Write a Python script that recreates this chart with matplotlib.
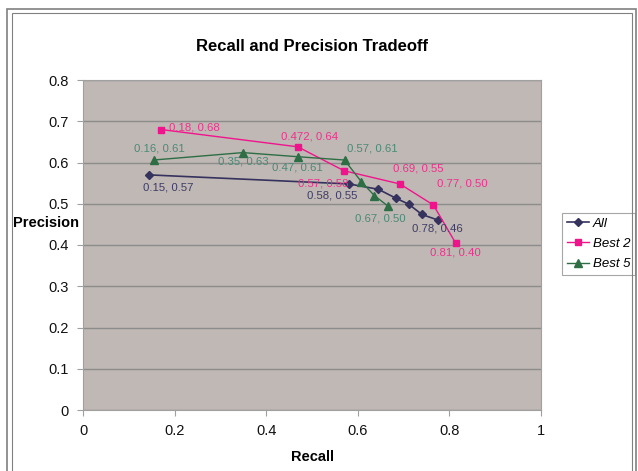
import matplotlib.pyplot as plt
from matplotlib.patches import Rectangle

plt.rcParams['font.family'] = ['Liberation Sans', 'DejaVu Sans']

# data
all_recall = [0.144, 0.581, 0.645, 0.684, 0.711, 0.740, 0.776]
all_prec = [0.570, 0.548, 0.535, 0.513, 0.499, 0.474, 0.460]
best2_recall = [0.170, 0.469, 0.570, 0.692, 0.765, 0.814]
best2_prec = [0.680, 0.638, 0.580, 0.548, 0.497, 0.404]
best5_recall = [0.154, 0.349, 0.469, 0.571, 0.608, 0.636, 0.665]
best5_prec = [0.606, 0.624, 0.614, 0.606, 0.553, 0.520, 0.495]

# labelled points: (point index, text, offset px)
all_labels = [(0, '0.15, 0.57', (19, -13)), (1, '0.58, 0.55', (-17, -12)),
              (6, '0.78, 0.46', (-1, -8))]
best2_labels = [(0, '0.18, 0.68', (34, 2)), (1, '0.472, 0.64', (12, 10)),
                (2, '0.57, 0.58', (-21, -13)), (3, '0.69, 0.55', (18, 15)),
                (4, '0.77, 0.50', (29, 21)), (5, '0.81, 0.40', (0, -9))]
best5_labels = [(0, '0.16, 0.61', (6, 12)), (1, '0.35, 0.63', (0, -9)),
                (2, '0.47, 0.61', (0, -11)), (3, '0.57, 0.61', (28, 12)),
                (6, '0.67, 0.50', (-7, -13))]

navy = '#35325e'
pink = '#f0148c'
green = '#2d6e45'

fig = plt.figure(figsize=(6.38, 4.71), dpi=100)
fig.patches.append(Rectangle((7 / 638, -0.1), 629 / 638, 1.1 - 9 / 471, transform=fig.transFigure,
                             fill=False, edgecolor='#808080', linewidth=1.2))
fig.patches.append(Rectangle((11.5 / 638, -0.1), 620 / 638, 1.1 - 12.5 / 471, transform=fig.transFigure,
                             fill=False, edgecolor='#808080', linewidth=0.8))

ax = fig.add_axes([83 / 638, 61 / 471, 458 / 638, 330 / 471])
ax.set_facecolor('#c0b8b4')
ax.plot(all_recall, all_prec, color=navy, marker='D', markersize=4, linewidth=1.2, label='All')
ax.plot(best2_recall, best2_prec, color=pink, marker='s', markersize=5, linewidth=1.0, label='Best 2')
ax.plot(best5_recall, best5_prec, color=green, marker='^', markersize=5.5, linewidth=1.0, label='Best 5')

for xs, ys, labels, c in [(all_recall, all_prec, all_labels, '#3e3c66'),
                          (best2_recall, best2_prec, best2_labels, '#f0308c'),
                          (best5_recall, best5_prec, best5_labels, '#4a8a78')]:
    for i, txt, off in labels:
        ax.annotate(txt, (xs[i], ys[i]), xytext=off, textcoords='offset pixels',
                    ha='center', va='center', fontsize=8.2, color=c)

ax.set_xlim(0, 1)
ax.set_ylim(0, 0.8)
ax.set_xticks([0, 0.2, 0.4, 0.6, 0.8, 1])
ax.set_xticklabels(['0', '0.2', '0.4', '0.6', '0.8', '1'])
ax.set_yticks([0, 0.1, 0.2, 0.3, 0.4, 0.5, 0.6, 0.7, 0.8])
ax.set_yticklabels(['0', '0.1', '0.2', '0.3', '0.4', '0.5', '0.6', '0.7', '0.8'])
ax.grid(axis='y', color='#8c8c8c', linewidth=1.0)
ax.set_axisbelow(True)
for s in ax.spines.values():
    s.set_color('#a0a0a0')
ax.tick_params(colors='#a0a0a0', labelcolor='#111111', labelsize=10.5, length=4, pad=6)

ax.set_title('Recall and Precision Tradeoff', fontsize=12, fontweight='bold', pad=21)
ax.set_xlabel('Recall', fontsize=10.5, fontweight='bold', labelpad=9)
ax.set_ylabel('Precision', fontsize=10.5, fontweight='bold', rotation=0, va='center', ha='center')
ax.yaxis.set_label_coords(-0.081, 0.567)

leg = ax.legend(loc='upper left', bbox_to_anchor=(1.046, 0.597), borderaxespad=0,
                frameon=True, fancybox=False, prop={'style': 'italic', 'size': 9.5},
                handlelength=1.7, handletextpad=0.3, borderpad=0.35, labelspacing=0.6)
leg.get_frame().set_edgecolor('#909090')
leg.get_frame().set_linewidth(0.8)

plt.savefig('out.png', dpi=100)
